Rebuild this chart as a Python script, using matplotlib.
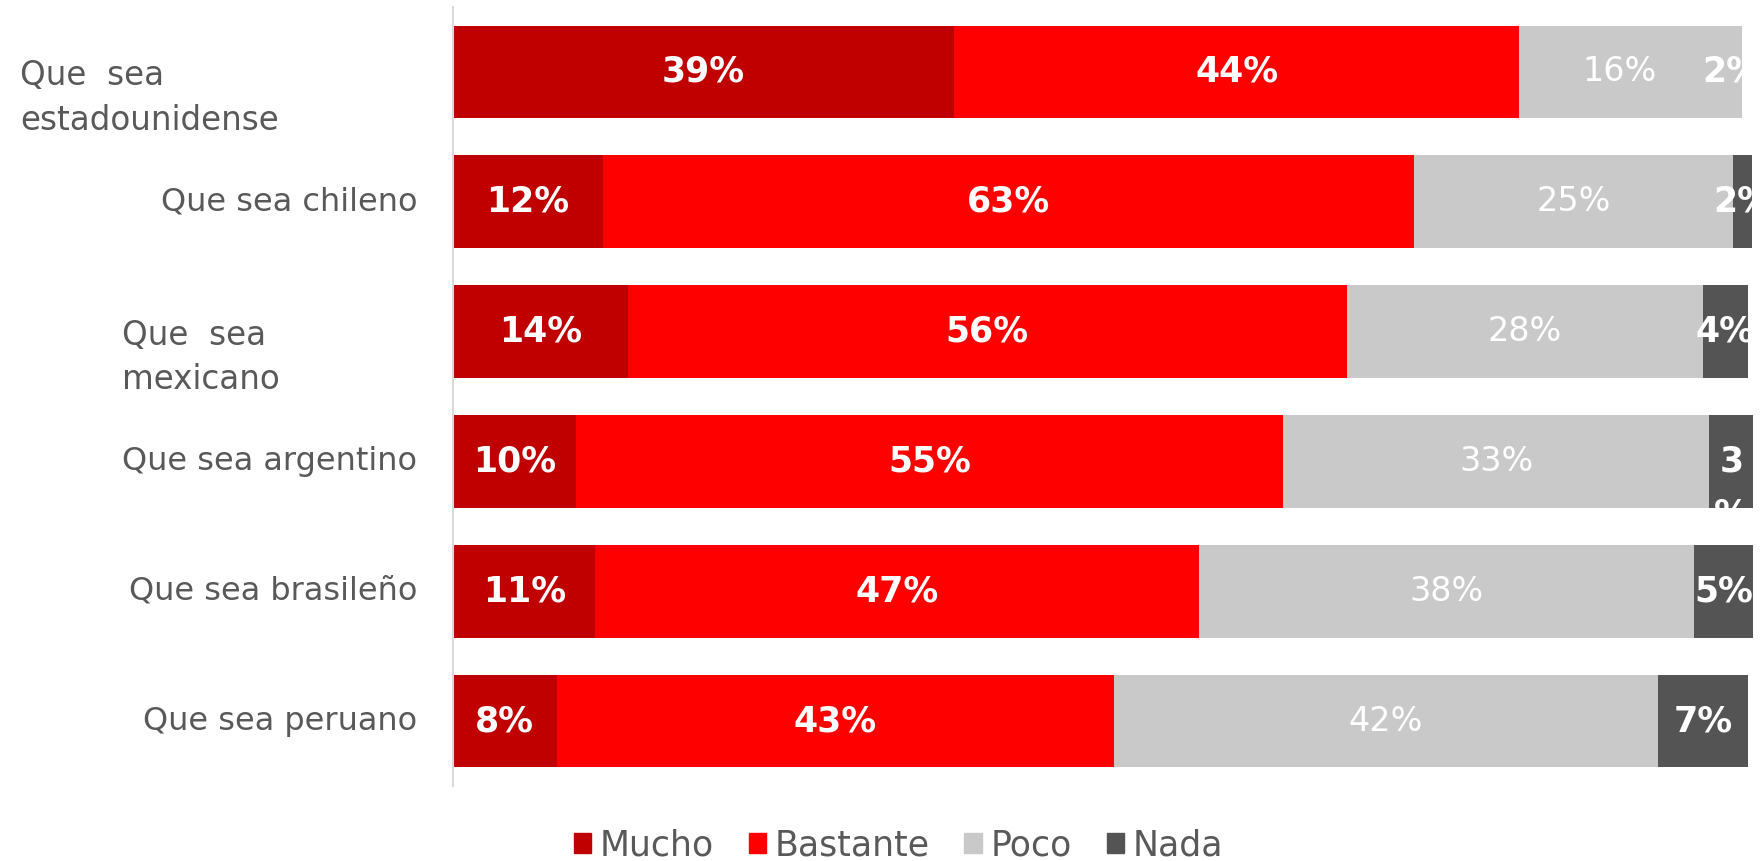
import matplotlib
matplotlib.use("Agg")
import matplotlib.pyplot as plt
import numpy as np

# categorias (arriba -> abajo)
categorias = ["Que  sea\nestadounidense", "Que sea chileno", "Que  sea\nmexicano",
              "Que sea argentino", "Que sea brasileño", "Que sea peruano"]
series = ["Mucho", "Bastante", "Poco", "Nada"]

mucho = [38.7, 11.6, 13.5, 9.5, 11.0, 8.0]
bastante = [43.6, 62.6, 55.5, 54.6, 46.6, 43.0]
poco = [15.6, 24.6, 27.5, 32.9, 38.2, 42.0]
nada = [1.6, 1.5, 3.5, 3.4, 4.6, 7.0]

colores = ["#C00000", "#FF0000", "#C9C9C9", "#545454"]
gris_texto = "#595959"

fig = plt.figure(figsize=(17.65, 8.61), dpi=100)
ax = fig.add_axes([453 / 1765, 75 / 861, 1312 / 1765, 779 / 861])

y = np.arange(len(categorias))
left = np.zeros(len(categorias))
for i, (nombre, vals) in enumerate(zip(series, [mucho, bastante, poco, nada])):
    vals = np.array(vals)
    col = [colores[i]] * len(vals)
    if nombre == "Nada":
        col[0] = colores[2]  # en el original este tramo aparece en gris
    ax.barh(y, vals, left=left, height=0.714, color=col, label=nombre)
    for j, v in enumerate(vals):
        cx = left[j] + v / 2
        peso = "normal" if nombre == "Poco" else "bold"
        tam = 24 if nombre == "Poco" else 25
        if nombre == "Nada" and j == 3:
            # etiqueta partida en dos lineas como en el original
            ax.text(cx, y[j] - 0.13, f"{v:.0f}\n%", ha="center", va="top",
                    color="white", fontsize=tam, fontweight=peso, linespacing=1.7)
        else:
            ax.text(cx, y[j], f"{v:.0f}%", ha="center", va="center", color="white",
                    fontsize=tam, fontweight=peso)
    left += vals

ax.set_xlim(0, 101.3)
ax.set_ylim(5.5, -0.5)
ax.set_xticks([])
ax.set_yticks([])
for s in ["top", "right", "bottom"]:
    ax.spines[s].set_visible(False)
ax.spines["left"].set_color("#D9D9D9")
ax.spines["left"].set_linewidth(1.5)

# etiquetas de categoria
tr = ax.get_yaxis_transform()
for j, cat in enumerate(categorias):
    if "\n" in cat:
        x0 = -0.330 if j == 0 else -0.2523
        ax.text(x0, y[j] + 0.2, cat, transform=tr, ha="left", va="center",
                fontsize=23.5, color=gris_texto, linespacing=1.45)
    else:
        ax.text(-0.0274, y[j], cat, transform=tr, ha="right", va="center",
                fontsize=23, color=gris_texto)

leg = fig.legend(loc="center", bbox_to_anchor=(0.509, 0.018), ncol=4, frameon=False,
                 fontsize=25, handlelength=0.5, handleheight=0.5, handletextpad=0.25,
                 columnspacing=1.0, labelcolor=gris_texto)
for h, c in zip(leg.legend_handles, colores):
    h.set_color(c)

fig.savefig("out.png", dpi=100)
